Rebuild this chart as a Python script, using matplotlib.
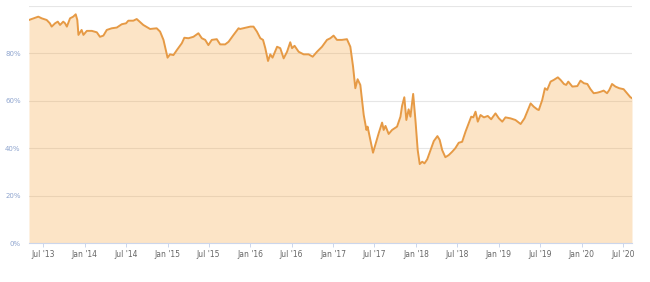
import matplotlib
matplotlib.use('Agg')
import matplotlib.pyplot as plt
import matplotlib.dates as mdates
import pandas as pd

# dominance readings taken off the reference chart (%)
dates = ['2013-04-30', '2013-06-10', '2013-06-25', '2013-07-17', '2013-07-31',
         '2013-08-08', '2013-08-23', '2013-09-04', '2013-09-14', '2013-09-28',
         '2013-10-06', '2013-10-14', '2013-10-28', '2013-11-11', '2013-11-22',
         '2013-11-29', '2013-12-04', '2013-12-18', '2013-12-26', '2014-01-10',
         '2014-02-01', '2014-02-23', '2014-03-09', '2014-03-24', '2014-04-08',
         '2014-04-30', '2014-05-22', '2014-06-13', '2014-07-02', '2014-07-12',
         '2014-08-03', '2014-08-18', '2014-09-16', '2014-10-16', '2014-11-14',
         '2014-11-29', '2014-12-14', '2014-12-26', '2015-01-01', '2015-01-12',
         '2015-01-27', '2015-02-11', '2015-03-05', '2015-03-16', '2015-04-03',
         '2015-04-25', '2015-05-17', '2015-06-01', '2015-06-16', '2015-06-30',
         '2015-07-15', '2015-08-06', '2015-08-21', '2015-09-12', '2015-09-27',
         '2015-10-19', '2015-11-10', '2015-11-17', '2015-12-09', '2016-01-01',
         '2016-01-15', '2016-01-30', '2016-02-14', '2016-02-26', '2016-03-07',
         '2016-03-19', '2016-03-29', '2016-04-08', '2016-04-28', '2016-05-12',
         '2016-05-27', '2016-06-11', '2016-06-25', '2016-07-03', '2016-07-14',
         '2016-08-01', '2016-08-23', '2016-09-14', '2016-10-02', '2016-10-21',
         '2016-11-12', '2016-12-04', '2016-12-19', '2017-01-02', '2017-01-17',
         '2017-02-08', '2017-03-02', '2017-03-17', '2017-03-29', '2017-04-08',
         '2017-04-18', '2017-04-30', '2017-05-15', '2017-05-27', '2017-06-01',
         '2017-06-13', '2017-06-25', '2017-07-05', '2017-07-20', '2017-08-04',
         '2017-08-11', '2017-08-19', '2017-09-02', '2017-09-17', '2017-10-09',
         '2017-10-24', '2017-10-31', '2017-11-10', '2017-11-19', '2017-11-29',
         '2017-12-07', '2017-12-19', '2017-12-29', '2018-01-08', '2018-01-17',
         '2018-01-28', '2018-02-07', '2018-02-19', '2018-03-05', '2018-03-20',
         '2018-04-05', '2018-04-15', '2018-04-26', '2018-05-10', '2018-05-25',
         '2018-06-09', '2018-06-23', '2018-07-08', '2018-07-23', '2018-08-07',
         '2018-08-21', '2018-09-01', '2018-09-10', '2018-09-20', '2018-09-30',
         '2018-10-12', '2018-10-27', '2018-11-13', '2018-11-28', '2018-12-17',
         '2019-01-01', '2019-01-16', '2019-01-30', '2019-02-21', '2019-03-15',
         '2019-04-07', '2019-04-24', '2019-05-06', '2019-05-21', '2019-06-04',
         '2019-06-19', '2019-06-26', '2019-07-11', '2019-07-23', '2019-08-02',
         '2019-08-17', '2019-08-31', '2019-09-18', '2019-09-30', '2019-10-15',
         '2019-10-25', '2019-11-03', '2019-11-21', '2019-12-13', '2019-12-27',
         '2020-01-11', '2020-01-26', '2020-02-09', '2020-02-23', '2020-03-09',
         '2020-03-24', '2020-04-07', '2020-04-22', '2020-05-02', '2020-05-14',
         '2020-05-29', '2020-06-15', '2020-07-04', '2020-07-19', '2020-08-03',
         '2020-08-10']
share = [94.1, 95.5, 94.8, 94.1, 92.7, 91.3, 92.7, 93.4, 92.0, 93.4,
         92.7, 91.3, 94.8, 95.5, 96.5, 94.1, 87.8, 89.9, 87.8, 89.5,
         89.5, 88.9, 87.0, 87.5, 89.9, 90.6, 90.9, 92.3, 92.7, 93.8,
         93.8, 94.5, 92.0, 90.3, 90.6, 89.2, 85.7, 80.7, 78.2, 79.6,
         79.3, 81.4, 84.3, 86.6, 86.4, 87.0, 88.5, 86.4, 85.7, 83.5,
         85.7, 86.0, 83.8, 83.8, 84.9, 87.8, 90.6, 90.3, 90.8, 91.3,
         91.3, 89.2, 86.4, 85.7, 82.2, 76.8, 79.6, 78.2, 82.8, 82.2,
         77.9, 80.7, 84.7, 82.2, 83.2, 80.7, 79.6, 79.6, 78.6, 80.7,
         82.8, 85.7, 86.4, 87.5, 85.7, 85.7, 86.0, 82.8, 74.4, 65.3,
         69.1, 66.7, 54.0, 47.7, 49.1, 43.5, 38.1, 41.4, 46.3, 50.8,
         47.7, 49.4, 46.0, 47.7, 49.1, 53.3, 57.8, 61.5, 51.9, 56.4,
         53.3, 62.9, 51.9, 39.2, 33.3, 34.3, 33.6, 35.3, 39.0, 43.0,
         45.1, 43.5, 39.2, 36.2, 37.1, 38.5, 40.0, 42.3, 42.7, 47.0,
         50.5, 53.3, 53.0, 55.4, 51.2, 54.0, 53.0, 53.6, 52.2, 54.7,
         52.6, 51.2, 53.0, 52.6, 51.9, 50.2, 52.6, 55.4, 58.9, 57.5,
         56.4, 56.1, 60.3, 65.3, 64.6, 68.1, 68.8, 69.9, 68.8, 67.1,
         66.7, 68.1, 66.0, 66.2, 68.5, 67.4, 67.1, 64.9, 63.2, 63.4,
         63.8, 64.3, 63.2, 64.6, 67.1, 66.0, 65.3, 64.9, 63.2, 61.5,
         61.1]

tick_dates = ['2013-07-01', '2014-01-01', '2014-07-01', '2015-01-01', '2015-07-01',
              '2016-01-01', '2016-07-01', '2017-01-01', '2017-07-01', '2018-01-01',
              '2018-07-01', '2019-01-01', '2019-07-01', '2020-01-01', '2020-07-01']
tick_labels = ["Jul '13", "Jan '14", "Jul '14", "Jan '15", "Jul '15",
               "Jan '16", "Jul '16", "Jan '17", "Jul '17", "Jan '18",
               "Jul '18", "Jan '19", "Jul '19", "Jan '20", "Jul '20"]
y_ticks = [0, 20, 40, 60, 80, 100]
y_labels = ['0%', '20%', '40%', '60%', '80%', '']

x = pd.to_datetime(dates)

fig = plt.figure(figsize=(6.5, 2.82), dpi=100)
ax = fig.add_axes([29 / 650, 39 / 282, 603 / 650, 237 / 282])

ax.fill_between(x, share, 0, color='#f7a035', alpha=0.28, linewidth=0, zorder=2)
ax.plot(x, share, color='#e69a45', linewidth=1.4, zorder=3)

ax.set_xlim(x[0], x[-1])
ax.set_ylim(0, 100)

ax.set_yticks(y_ticks)
ax.set_yticklabels(y_labels)
ax.set_xticks(pd.to_datetime(tick_dates))
ax.set_xticklabels(tick_labels)

ax.grid(axis='y', color='#e6e6e6', linewidth=0.8, zorder=1)
ax.set_axisbelow(True)
for side in ['top', 'right', 'left']:
    ax.spines[side].set_visible(False)
ax.spines['bottom'].set_color('#ccd6eb')
ax.spines['bottom'].set_linewidth(0.8)

ax.tick_params(axis='y', length=0, pad=6, labelsize=5, labelcolor='#8fa5cf')
ax.tick_params(axis='x', length=3, width=0.7, color='#ccd6eb', pad=2,
               labelsize=5.5, labelcolor='#666666')

fig.savefig('out.png', dpi=100)
